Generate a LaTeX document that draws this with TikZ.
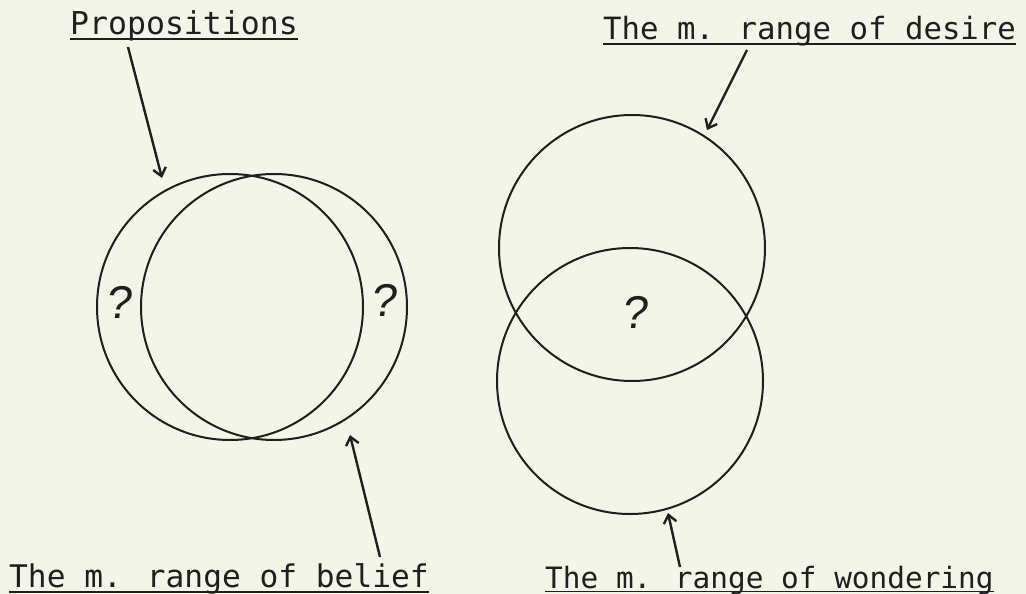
\documentclass[tikz,border=0pt]{standalone}
\usepackage{fontspec}
\newfontfamily\monofont{DejaVu Sans Mono}
\newfontfamily\qfont[FakeSlant=0.12]{Liberation Sans}
\usetikzlibrary{arrows.meta}
\definecolor{paper}{RGB}{243,245,232}
\definecolor{ink}{RGB}{32,30,30}
\begin{document}
\begin{tikzpicture}[x=1pt,y=-1pt,
  ring/.style={circle, draw=ink, line width=2pt, minimum size=266pt, inner sep=0pt},
  caption/.style={font=\monofont\fontsize{#1}{#1}\selectfont, text=ink, inner sep=0pt, anchor=base west},
  query/.style={font=\qfont\fontsize{46}{46}\selectfont, text=ink, inner sep=0pt},
  pointer/.style={draw=ink, line width=2.4pt, -{Straight Barb[length=8pt,width=13pt]}},
  rulestyle/.style={draw=ink, line width=1.6pt}]
\fill[paper] (0,0) rectangle (1026,594);
\useasboundingbox (0,0) rectangle (1026,594);
% circles
\node[ring] (prop) at (230,307) {};
\node[ring] (belief) at (274,307) {};
\node[ring] (desire) at (632,248) {};
\node[ring] (wonder) at (630,381) {};
% question marks
\node[query] (q1) at (118,302) {?};
\node[query] (q2) at (383,300) {?};
\node[query] (q3) at (634,312) {?};
% captions
\node[caption=31.5] (tprop) at (70,35) {Propositions};
\node[caption=30.7] (tdes) at (603,40) {The m. range of desire};
\node[caption=31.2] (tbel) at (9,587) {The m. range of belief};
\node[caption=29.4] (twon) at (545,588) {The m. range of wondering};
\draw[rulestyle] ([yshift=-4pt]tprop.base west) -- ([yshift=-4pt]tprop.base east);
\draw[rulestyle] ([yshift=-4pt]tdes.base west) -- ([yshift=-4pt]tdes.base east);
\draw[rulestyle] ([yshift=-5pt]tbel.base west) -- ([yshift=-5pt]tbel.base east);
\draw[rulestyle] ([yshift=-3.5pt]twon.base west) -- ([yshift=-3.5pt]twon.base east);
% arrows
\coordinate (pTail) at (128,47);  \coordinate (pTip) at (162,178);
\coordinate (dTail) at (747,50);  \coordinate (dTip) at (707,130);
\coordinate (bTail) at (380,557); \coordinate (bTip) at (350,435);
\coordinate (wTail) at (680,567); \coordinate (wTip) at (668,513);
\draw[pointer] (pTail) -- (pTip);
\draw[pointer] (dTail) -- (dTip);
\draw[pointer] (bTail) -- (bTip);
\draw[pointer] (wTail) -- (wTip);
\end{tikzpicture}
\end{document}
